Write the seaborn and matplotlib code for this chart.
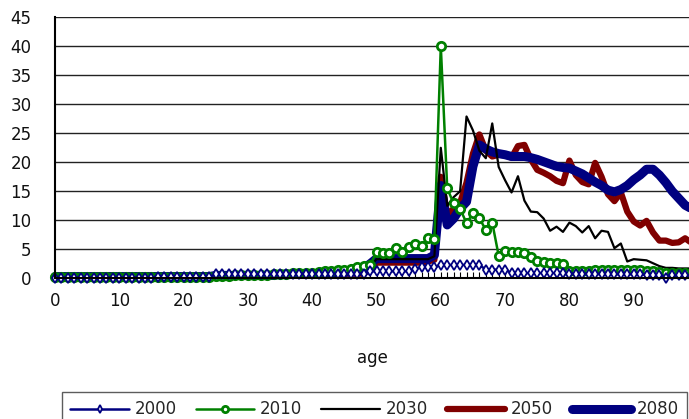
import numpy as np
import pandas as pd
import matplotlib
matplotlib.use("Agg")
import matplotlib.pyplot as plt
import seaborn as sns
from matplotlib.ticker import MultipleLocator

# ---- data (ages 0..99) ----
ages = list(range(100))

s2000 = ([0.1] * 16 + [0.2] * 9 + [0.7] * 11 + [0.8] * 13 +
         [1.2] * 7 + [1.6, 1.9, 1.9, 1.9] +
         [2.3, 2.3, 2.3, 2.3, 2.3, 2.3, 2.3] + [1.5, 1.5, 1.5, 1.5] +
         [0.9] * 9 +
         [0.8, 0.8, 0.8, 0.8, 0.8, 0.7, 0.7, 0.7, 0.7, 0.7, 0.7, 0.7, 0.6, 0.6, 0.6] +
         [0.1, 0.5, 0.5, 0.5, 0.5])

s2010 = ([0.15] * 20 +
         [0.2, 0.2, 0.25, 0.3, 0.3, 0.35, 0.4, 0.4,
          0.5, 0.5, 0.55, 0.6, 0.6, 0.65, 0.7, 0.7,
          0.8, 0.85, 0.9, 0.95, 1.0,
          1.1, 1.2, 1.3, 1.4, 1.5, 1.6,
          1.9, 2.2, 2.3,
          4.5, 4.4, 4.3, 5.2, 4.6, 5.4, 6.0, 5.6, 7.0, 6.8,
          40.0, 15.5, 12.9, 12.0, 9.5, 11.2, 10.4, 8.3, 9.6, 3.9,
          4.7, 4.6, 4.5, 4.3, 3.6, 2.9, 2.8, 2.7, 2.6, 2.5,
          1.3, 1.3, 1.3, 1.3, 1.4, 1.4, 1.4, 1.5, 1.5, 1.5,
          1.5, 1.4, 1.3, 1.2, 1.1, 1.0, 0.9, 0.9, 0.9, 0.9])

s2030 = ([0.3] * 25 + [0.5] * 15 + [0.7] * 9 +
         [2.0, 3.3, 3.3, 3.3, 3.3, 3.3, 3.3, 3.3, 3.3, 3.3, 3.8,
          22.5, 12.5, 14.0, 15.0, 27.9, 25.5, 22.0, 20.7, 26.7, 19.2,
          16.9, 14.8, 17.6, 13.4, 11.5, 11.4, 10.3, 8.2, 8.9, 8.0,
          9.6, 9.0, 7.9, 9.0, 6.9, 8.2, 8.0, 5.2, 6.0, 2.9,
          3.3, 3.2, 3.1, 2.6, 2.1, 1.8, 1.8, 1.7, 1.7, 1.7])

s2050 = ([0.3] * 25 + [0.5] * 15 + [0.8] * 9 +
         [1.5, 2.7, 2.7, 2.7, 2.7, 2.7, 2.7, 2.7, 2.7, 2.9, 3.2,
          17.5, 11.0, 12.0, 13.0, 16.5, 21.5, 24.8, 22.0, 21.0, 21.3,
          21.2, 20.8, 22.8, 23.0, 20.5, 18.7, 18.2, 17.6, 16.8, 16.4,
          20.3, 17.8, 16.6, 16.2, 19.9, 17.5, 14.5, 13.3, 14.8, 11.5,
          9.8, 9.1, 9.9, 7.9, 6.5, 6.5, 6.1, 6.2, 6.9, 6.1])

s2080 = ([0.3] * 25 + [0.5] * 10 + [0.7] * 10 +
         [1.0, 1.2, 1.4, 1.7, 2.5,
          3.4, 3.4, 3.4, 3.4, 3.4, 3.4, 3.4, 3.4, 3.4, 4.0,
          16.0, 9.2, 10.3, 12.0, 13.2, 19.3, 23.0, 22.3, 21.8, 21.5,
          21.3, 21.0, 21.0, 21.0, 20.8, 20.5, 20.1, 19.7, 19.3, 19.1,
          19.0, 18.5, 18.0, 17.3, 16.6, 16.0, 15.2, 14.9, 15.3, 16.0,
          17.0, 17.8, 18.8, 18.8, 17.8, 16.5, 15.0, 13.8, 12.6, 12.0])

series_names = ["2000", "2010", "2030", "2050", "2080"]
series_vals = [s2000, s2010, s2030, s2050, s2080]

x_ticks = list(range(0, 100, 10))
y_ticks = list(range(0, 50, 5))

# ---- figure ----
sns.set_theme(style="white")
plt.rcParams["font.family"] = ["DejaVu Sans"]

W, H = 689, 419
fig = plt.figure(figsize=(W / 100, H / 100), dpi=100)
ax = fig.add_axes([55 / W, (H - 278.3) / H, (W - 55) / W, (278.3 - 17.3) / H])

styles = {
    "2000": dict(color="#000080", lw=1.8, marker="d", markersize=5,
                 mfc="white", mec="#000080", mew=1.3, zorder=7),
    "2010": dict(color="#008000", lw=1.8, marker="o", markersize=6,
                 mfc="white", mec="#008000", mew=2.0, zorder=6),
    "2030": dict(color="black", lw=1.6, zorder=5),
    "2050": dict(color="#800000", lw=4.5, zorder=3, solid_capstyle="round"),
    "2080": dict(color="#000080", lw=6.5, zorder=4, solid_capstyle="round"),
}

for name, vals in zip(series_names, series_vals):
    df = pd.DataFrame({"age": ages, "value": vals})
    sns.lineplot(data=df, x="age", y="value", ax=ax, label=name,
                 clip_on=False, **styles[name])

ax.set_xlim(0, 98.6)
ax.set_ylim(0, 45)
ax.set_xticks(x_ticks)
ax.set_yticks(y_ticks)
ax.xaxis.set_minor_locator(MultipleLocator(1))
ax.tick_params(axis="x", which="both", direction="in", length=4, width=0.8,
               color="black", labelsize=12, pad=10, bottom=True)
ax.tick_params(axis="y", which="both", length=0, labelsize=12, pad=17)
for lab in ax.get_xticklabels() + ax.get_yticklabels():
    lab.set_color("#111111")

ax.grid(axis="y", color="#222222", lw=1.0)
ax.grid(axis="x", visible=False)
ax.set_axisbelow(True)
for side in ["top", "right"]:
    ax.spines[side].set_visible(False)
for side in ["left", "bottom"]:
    ax.spines[side].set_color("black")
    ax.spines[side].set_linewidth(1.5)
    ax.spines[side].set_zorder(8)

ax.set_xlabel("age", fontsize=12, labelpad=28, color="#111111")
ax.set_ylabel("")

leg = ax.legend(loc="upper left", bbox_to_anchor=(62 / W, 1 - 392 / H),
                bbox_transform=fig.transFigure, ncol=5, fontsize=12,
                frameon=True, fancybox=False, handlelength=3.5,
                handletextpad=0.35, columnspacing=1.15, borderpad=0.5,
                borderaxespad=0, markerscale=0.75)
leg.get_frame().set_edgecolor("#333333")
leg.get_frame().set_linewidth(1.0)

fig.savefig("out.png", dpi=100)
